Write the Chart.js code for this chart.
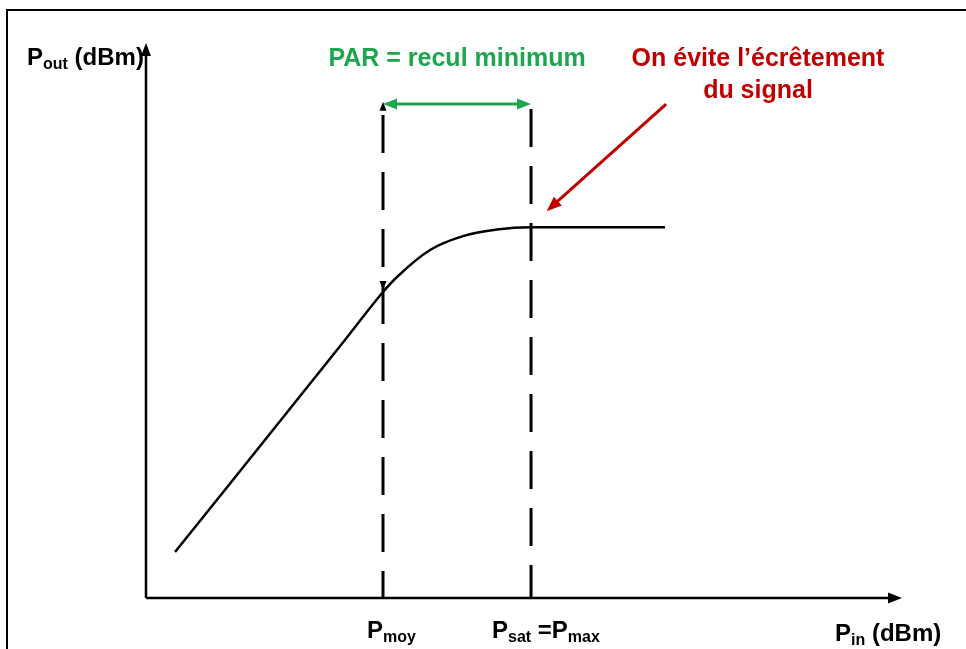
<!DOCTYPE html>
<html><head><meta charset="utf-8">
<script src="https://cdn.jsdelivr.net/npm/chart.js@4"></script>
<style>html,body{margin:0;padding:0;background:#fff;overflow:hidden}#wrap{width:966px;height:649px}</style>
</head><body><div id="wrap"><canvas id="c" width="966" height="649"></canvas></div>
<script>
// ---- data (arbitrary schematic units, 0..100 on both axes) ----
const pinCurve  = [3.84, 26.32, 31.35, 33.20, 37.57, 41.93, 46.43, 50.93, 60.05, 68.65];
const poutCurve = [8.29, 46.49, 55.14, 57.84, 62.70, 65.20, 66.40, 66.80, 66.80, 66.80];
const pMoy = 31.35;         // P_moy
const pSat = 50.93;         // P_sat = P_max
const markerTop = 89.4;     // top of the two vertical dashed markers
const parLevel = 89.0;      // level of the PAR double arrow
const clipNoteFrom = [68.8, 89.0];  // red arrow start (Pin, Pout)
const clipNoteTo   = [53.0, 69.7];  // red arrow end (Pin, Pout)
const axisMax = 100;

const titleY  = ['P', 'out', ' (dBm)'];
const titleX  = ['P', 'in', ' (dBm)'];
const labelMoy = ['P', 'moy'];
const labelSat = ['P', 'sat', ' =P', 'max'];
const parText = 'PAR = recul minimum';
const noteText = ['On évite l\u2019écrêtement', 'du signal'];

const GREEN = '#1ea64e', RED = '#c00000', BLACK = '#000';
const FONT = '"Liberation Sans", Arial, sans-serif';

const toPts = (xs, ys) => xs.map((x, i) => ({x, y: ys[i]}));

function arrowHead(ctx, tx, ty, fx, fy, len, hw, color) {
  const a = Math.atan2(ty - fy, tx - fx);
  ctx.save();
  ctx.fillStyle = color;
  ctx.beginPath();
  ctx.moveTo(tx, ty);
  ctx.lineTo(tx - len * Math.cos(a) + hw * Math.sin(a), ty - len * Math.sin(a) - hw * Math.cos(a));
  ctx.lineTo(tx - len * Math.cos(a) - hw * Math.sin(a), ty - len * Math.sin(a) + hw * Math.cos(a));
  ctx.closePath();
  ctx.fill();
  ctx.restore();
}

// parts alternate: normal, subscript, normal, subscript...
function subText(ctx, parts, x, y, size, subSize, color) {
  ctx.save();
  ctx.fillStyle = color;
  ctx.textBaseline = 'alphabetic';
  ctx.textAlign = 'left';
  let cx = x;
  parts.forEach((t, i) => {
    const sub = i % 2 === 1;
    ctx.font = 'bold ' + (sub ? subSize : size) + 'px ' + FONT;
    ctx.fillText(t, cx, y + (sub ? 4 : 0));
    cx += ctx.measureText(t).width;
  });
  ctx.restore();
}

const decor = {
  id: 'decor',
  beforeDraw(chart) {
    const ctx = chart.ctx;
    ctx.save();
    ctx.fillStyle = '#fff';
    ctx.fillRect(0, 0, chart.width, chart.height);
    ctx.strokeStyle = '#000';
    ctx.lineWidth = 2;
    ctx.strokeRect(7, 10, chart.width + 20, chart.height + 20);
    ctx.restore();
  },
  afterDatasetsDraw(chart) {
    const ctx = chart.ctx;
    const xs = chart.scales.x, ys = chart.scales.y;
    const X = v => xs.getPixelForValue(v), Y = v => ys.getPixelForValue(v);
    // axis arrows
    arrowHead(ctx, X(0), Y(axisMax), X(0), Y(0), 13, 5, BLACK);
    arrowHead(ctx, X(axisMax), Y(0), X(0), Y(0), 14, 5.5, BLACK);
    // small arrows on the P_moy marker
    arrowHead(ctx, X(pMoy), Y(markerTop), X(pMoy), Y(0), 9, 3.5, BLACK);
    const curveAtMoy = Y(poutCurve[pinCurve.indexOf(pMoy)]);
    arrowHead(ctx, X(pMoy), curveAtMoy - 2, X(pMoy), Y(markerTop), 9, 3.5, BLACK);
    // PAR double arrow heads
    arrowHead(ctx, X(pMoy), Y(parLevel), X(pSat), Y(parLevel), 14, 5.5, GREEN);
    arrowHead(ctx, X(pSat), Y(parLevel), X(pMoy), Y(parLevel), 14, 5.5, GREEN);
    // red arrow head
    arrowHead(ctx, X(clipNoteTo[0]), Y(clipNoteTo[1]), X(clipNoteFrom[0]), Y(clipNoteFrom[1]), 15, 6, RED);

    // texts
    subText(ctx, titleY, 27, 65, 24, 16, BLACK);
    subText(ctx, titleX, 835, 641, 24, 16, BLACK);
    subText(ctx, labelMoy, X(pMoy) - 16, Y(0) + 40, 24, 16, BLACK);
    subText(ctx, labelSat, X(pSat) - 39, Y(0) + 40, 24, 16, BLACK);

    ctx.save();
    ctx.textAlign = 'center';
    ctx.textBaseline = 'alphabetic';
    ctx.font = 'bold 25px ' + FONT;
    ctx.fillStyle = GREEN;
    ctx.fillText(parText, (X(pMoy) + X(pSat)) / 2, 66);
    ctx.fillStyle = RED;
    ctx.fillText(noteText[0], 758, 66);
    ctx.fillText(noteText[1], 758, 98);
    ctx.restore();
  }
};

const base = {pointRadius: 0, pointHoverRadius: 0, showLine: true, clip: false, fill: false};

new Chart(document.getElementById('c'), {
  type: 'scatter',
  data: {
    datasets: [
      Object.assign({}, base, {label: 'Pout(Pin)', data: toPts(pinCurve, poutCurve), borderColor: BLACK, borderWidth: 2.5, cubicInterpolationMode: 'monotone'}),
      Object.assign({}, base, {label: 'x axis', data: [{x: 0, y: 0}, {x: axisMax - 1, y: 0}], borderColor: BLACK, borderWidth: 2.5}),
      Object.assign({}, base, {label: 'y axis', data: [{x: 0, y: 0}, {x: 0, y: axisMax - 1}], borderColor: BLACK, borderWidth: 2.5}),
      Object.assign({}, base, {label: 'Pmoy', data: [{x: pMoy, y: 0}, {x: pMoy, y: markerTop - 1}], borderColor: BLACK, borderWidth: 3, borderDash: [38, 19], borderDashOffset: 11}),
      Object.assign({}, base, {label: 'Psat', data: [{x: pSat, y: 0}, {x: pSat, y: markerTop}], borderColor: BLACK, borderWidth: 3, borderDash: [38, 19], borderDashOffset: 5}),
      Object.assign({}, base, {label: 'PAR', data: [{x: pMoy + 1, y: parLevel}, {x: pSat - 1, y: parLevel}], borderColor: GREEN, borderWidth: 3}),
      Object.assign({}, base, {label: 'note', data: [{x: clipNoteFrom[0], y: clipNoteFrom[1]}, {x: clipNoteTo[0] + 0.8, y: clipNoteTo[1] + 1}], borderColor: RED, borderWidth: 3})
    ]
  },
  options: {
    responsive: false,
    animation: false,
    events: [],
    layout: {padding: {left: 146, right: 64, top: 43, bottom: 51}},
    plugins: {legend: {display: false}, tooltip: {enabled: false}, title: {display: false}},
    scales: {
      x: {type: 'linear', min: 0, max: axisMax, display: false},
      y: {type: 'linear', min: 0, max: axisMax, display: false}
    }
  },
  plugins: [decor]
});
</script>
</body></html>
